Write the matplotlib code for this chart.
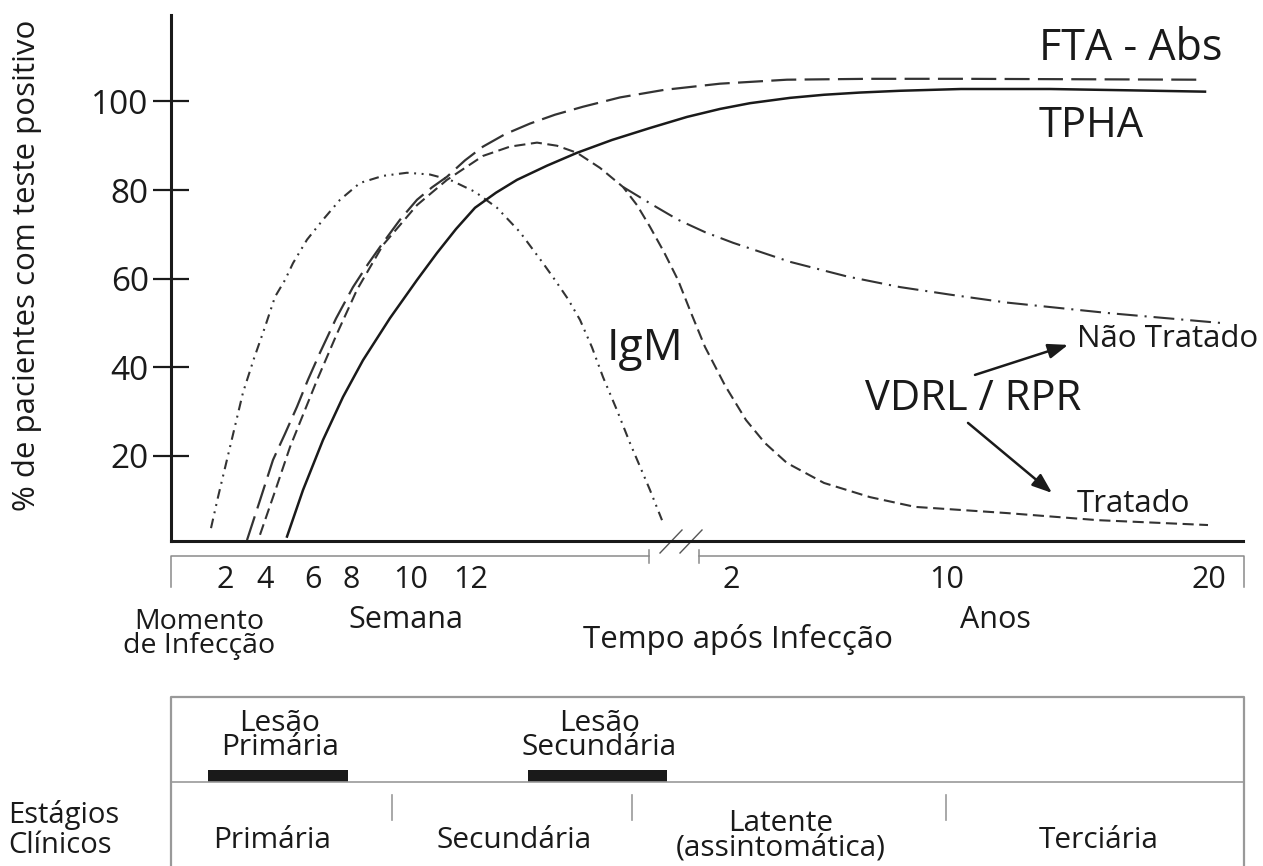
import matplotlib
matplotlib.use("Agg")
import matplotlib.pyplot as plt

plt.rcParams['font.family'] = ['Open Sans', 'DejaVu Sans']
plt.rcParams['lines.scale_dashes'] = False

# x = position along the (schematic, broken) time axis; y = % positive
igm_x = [211, 218, 230, 243, 254, 265, 275, 285, 293, 307, 323, 340, 360, 383, 407, 430, 450,
         475, 497, 520, 543, 555, 568, 580, 592, 603, 617, 630, 640, 650, 662]
igm_y = [3.7, 10.7, 22.0, 34.3, 42.0, 49.1, 55.9, 59.7, 63.5, 68.8, 73.3, 77.8, 81.6, 83.2, 83.9, 83.5, 82.3,
         79.6, 76.0, 70.5, 63.5, 59.7, 55.4, 50.7, 44.5, 37.8, 30.3, 22.9, 17.6, 12.3, 5.5]

fta_x = [247, 260, 273, 285, 297, 308, 320, 336, 353, 368, 383, 400, 417, 432, 447, 465, 483, 505, 530,
         555, 583, 620, 664, 720, 787, 870, 961, 1080, 1198]
fta_y = [1.0, 10.0, 19.1, 25.0, 31.1, 37.2, 43.3, 51.0, 58.1, 63.3, 68.1, 73.3, 77.8, 80.6, 83.0, 86.7, 89.8,
         92.6, 95.0, 97.0, 98.8, 100.9, 102.6, 104.0, 104.9, 105.1, 105.1, 105.0, 104.9]

tpha_x = [287, 303, 323, 343, 363, 390, 417, 437, 456, 475, 496, 517, 547, 577, 612, 650, 687,
          720, 750, 790, 824, 860, 900, 961, 1050, 1130, 1205]
tpha_y = [1.8, 12.3, 23.6, 33.3, 41.6, 51.1, 59.7, 65.8, 71.2, 76.0, 79.4, 82.3, 85.5, 88.4, 91.3, 94.0, 96.5,
          98.3, 99.6, 100.8, 101.5, 102.0, 102.4, 102.8, 102.8, 102.5, 102.2]

vdrl_x = [260, 275, 290, 317, 337, 357, 383, 417, 447, 483, 510, 537, 557, 577, 600, 623, 637, 650,
          664, 678, 691, 705, 725, 746, 765, 787, 824, 870, 915, 1007, 1098, 1208]
vdrl_y = [2.2, 12.0, 22.0, 37.1, 47.6, 57.5, 67.6, 76.6, 82.3, 87.7, 89.8, 90.7, 90.0, 88.4, 85.0, 80.7, 76.6, 71.7,
          66.0, 59.7, 52.3, 44.6, 35.9, 28.1, 22.9, 18.4, 13.9, 10.7, 8.5, 7.1, 5.5, 4.4]

untreated_x = [623, 650, 678, 705, 733, 790, 847, 900, 950, 1007, 1110, 1221]
untreated_y = [80.7, 77.0, 73.3, 70.5, 68.1, 63.8, 60.5, 58.1, 56.4, 54.6, 52.2, 50.0]

y_ticks = [20, 40, 60, 80, 100]
week_pos = [225, 265, 313, 351, 411, 471]
week_labels = ['2', '4', '6', '8', '10', '12']
year_pos = [731, 947, 1209]
year_labels = ['2', '10', '20']

lesion_start = [208, 528]
lesion_end = [348, 667]
lesion_names = ['Lesão\nPrimária', 'Lesão\nSecundária']
stage_dividers = [392, 632, 946]
stage_names = ['Primária', 'Secundária', 'Latente\n(assintomática)', 'Terciária']
stage_centers = [272, 514, 781, 1099]

W, H = 1263, 866
fig = plt.figure(figsize=(W / 100, H / 100), dpi=100)

# overlay in pixel coordinates for the frame pieces and labels outside the plot
ov = fig.add_axes([0, 0, 1, 1])
ov.set_xlim(0, W)
ov.set_ylim(H, 0)
ov.axis('off')

ax = fig.add_axes([171 / W, (H - 541) / H, (1243 - 171) / W, (541 - 15) / H])
ax.set_xlim(171, 1243)
ax.set_ylim(0.8, 119.5)
ax.patch.set_alpha(0)

curve_col = '#333333'
ax.plot(untreated_x, untreated_y, color=curve_col, lw=1.5, dashes=[15, 5, 1.5, 5])
ax.plot(igm_x, igm_y, color=curve_col, lw=1.5, dashes=[7, 4, 1.4, 4, 1.4, 4])
ax.plot(fta_x, fta_y, color=curve_col, lw=1.6, dashes=[18, 6])
ax.plot(vdrl_x, vdrl_y, color=curve_col, lw=1.5, dashes=[8, 4])
ax.plot(tpha_x, tpha_y, color='#1a1a1a', lw=1.8)

for s in ['top', 'right']:
    ax.spines[s].set_visible(False)
ax.spines['left'].set_linewidth(2.2)
ax.spines['bottom'].set_linewidth(2.2)
ax.spines['left'].set_color('#1a1a1a')
ax.spines['bottom'].set_color('#1a1a1a')
ax.set_yticks(y_ticks)
ax.set_xticks([])
ax.tick_params(axis='y', direction='inout', length=26, width=1.6, color='#1a1a1a',
               labelsize=24, pad=3, labelcolor='#1a1a1a')


def pct(py):
    return (544.6 - py) / 4.43


txt = dict(color='#1a1a1a')
ax.text(1039, pct(60), 'FTA - Abs', fontsize=31, va='baseline', **txt)
ax.text(1039, pct(137), 'TPHA', fontsize=30, va='baseline', **txt)
ax.text(607, pct(360), 'IgM', fontsize=32, va='baseline', **txt)
ax.text(865, pct(410), 'VDRL / RPR', fontsize=30, va='baseline', **txt)
ax.text(1077, pct(347), 'Não Tratado', fontsize=22.5, va='baseline', **txt)
ax.text(1077, pct(512), 'Tratado', fontsize=22.5, va='baseline', **txt)
arrow = dict(arrowstyle='-|>,head_length=1.2,head_width=0.45', color='#1a1a1a', lw=1.8,
             shrinkA=0, shrinkB=0)
ax.annotate('', xy=(1068, pct(345)), xytext=(975, pct(375)), arrowprops=arrow)
ax.annotate('', xy=(1052, pct(493)), xytext=(968, pct(423)), arrowprops=arrow)

ov.text(27, 265, '% de pacientes com teste positivo', rotation=90, fontsize=22.5,
        ha='center', va='center', **txt)

# broken time axis bracket
gray = '#8a8a8a'
ov.plot([171, 171, 649], [587, 555.7, 555.7], color=gray, lw=1.1)
ov.plot([649, 649], [550, 563], color=gray, lw=1.1)
ov.plot([699, 699], [550, 563], color=gray, lw=1.1)
ov.plot([699, 1244, 1244], [555.7, 555.7, 587], color=gray, lw=1.1)
ov.plot([660, 682], [553, 530], color='#555555', lw=1.0)
ov.plot([680, 702], [553, 530], color='#555555', lw=1.0)

for p, lab in zip(week_pos + year_pos, week_labels + year_labels):
    ov.text(p, 588, lab, fontsize=22, ha='center', va='baseline', **txt)

# multi-line texts: baseline anchor is the last line
ov.text(199, 653, 'Momento\nde Infecção', fontsize=20.5, ha='center', va='baseline',
        linespacing=0.8, multialignment='center', **txt)
ov.text(406, 628, 'Semana', fontsize=22, ha='center', va='baseline', **txt)
ov.text(738, 648, 'Tempo após Infecção', fontsize=22.5, ha='center', va='baseline', **txt)
ov.text(995, 628, 'Anos', fontsize=22, ha='center', va='baseline', **txt)

# clinical stages panel
ov.plot([171, 171, 1244, 1244], [H, 697, 697, H], color='#999999', lw=1.6)
ov.plot([171, 1244], [782, 782], color='#999999', lw=1.2)
for d in stage_dividers:
    ov.plot([d, d], [795, 820], color='#999999', lw=1.2)
ov.bar(lesion_start, 12, width=[e - s for s, e in zip(lesion_start, lesion_end)],
       bottom=770, align='edge', color='#1a1a1a')
for s, e, name in zip(lesion_start, lesion_end, lesion_names):
    ov.text((s + e) / 2 + 2, 755, name, fontsize=21.5, ha='center', va='baseline',
            linespacing=0.78, multialignment='center', **txt)
for c, name in zip(stage_centers, stage_names):
    base = 855 if '\n' in name else 848
    ov.text(c, base, name, fontsize=21.5, ha='center', va='baseline',
            linespacing=0.78, multialignment='center', **txt)
ov.text(8, 853, 'Estágios\nClínicos', fontsize=21, ha='left', va='baseline',
        linespacing=1.05, multialignment='left', **txt)

fig.savefig('out.png', dpi=100)
